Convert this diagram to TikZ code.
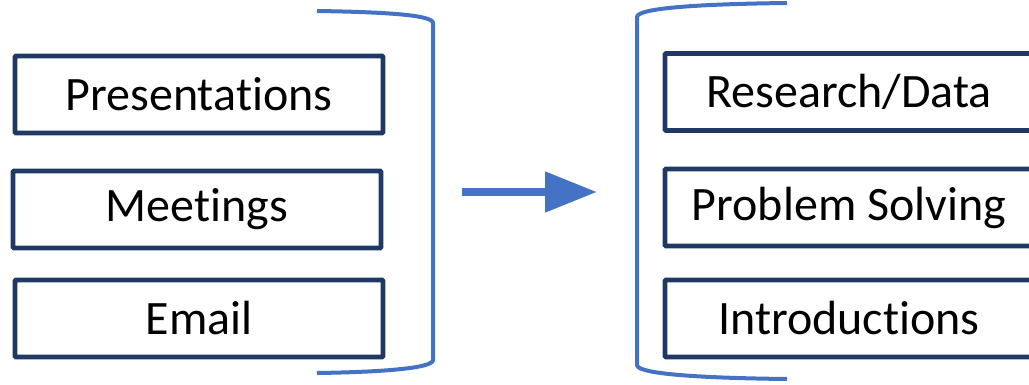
\documentclass[tikz,border=0pt]{standalone}
\usepackage{fontspec}
\setmainfont{Carlito}[Ligatures=NoCommon]
\usetikzlibrary{arrows.meta}
\definecolor{boxnavy}{HTML}{203864}
\definecolor{linkblue}{HTML}{4472C4}
\begin{document}
\begin{tikzpicture}[x=1pt,y=-1pt]
        \tikzset{
            task/.style={rectangle, draw=boxnavy, line width=4.8pt, rounded corners=1pt,
            minimum width=368pt, minimum height=77pt, inner sep=0pt,
            font=\fontsize{48}{52}\selectfont},
            brack/.style={linkblue, line width=4pt},
            moveto/.style={linkblue, line width=8pt, -{Triangle[length=52pt,width=39pt]}}
            }

            \useasboundingbox (0,0) rectangle (1029,384);
            \clip (0,0) rectangle (1029,384);

            % before
            \node[task] (p1) at (199,94.5) {Presentations};
            \node[task] (p2) at (197,209.5) {Meetings};
            \node[task] (p3) at (199,318.5) {Email};

            % after
            \node[task] (q1) at (849,92) {Research/Data};
            \node[task] (q2) at (849,207.5) {Problem Solving};
            \node[task] (q3) at (849,318.5) {Introductions};

            % brackets
            \draw[brack] (317,11) .. controls (385,12) and (433,15) .. (433,23)
                -- (433,360) .. controls (433,368) and (385,372) .. (317,373);
            \draw[brack] (787,3) .. controls (700,4) and (637,8) .. (637,17)
                -- (637,365) .. controls (637,374) and (700,378) .. (787,379);

            \coordinate (a1) at (462,192);
            \coordinate (a2) at (597,192);
            \draw[moveto] (a1) to (a2);
        \end{tikzpicture}
\end{document}
